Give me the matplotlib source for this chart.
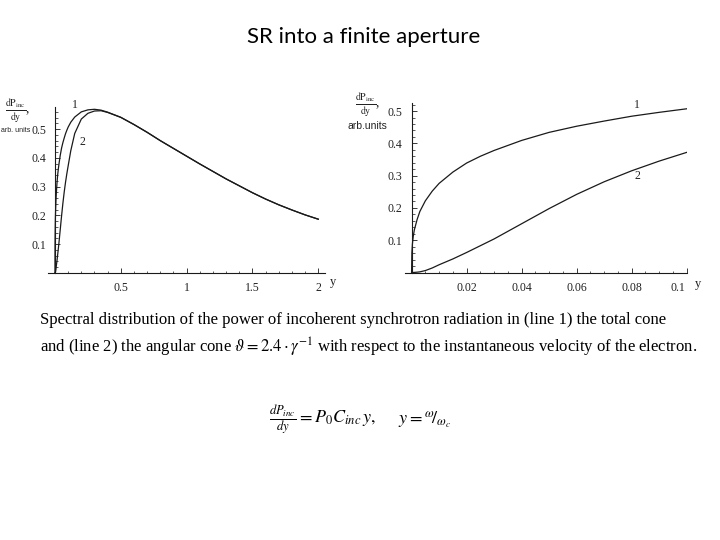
import matplotlib
matplotlib.use("Agg")
import matplotlib.pyplot as plt
import numpy as np
from matplotlib.ticker import MultipleLocator, FixedLocator
from matplotlib.transforms import ScaledTranslation

plt.rcParams["mathtext.fontset"] = "stix"
plt.rcParams["font.family"] = ["Liberation Serif", "DejaVu Serif"]

# y = omega / omega_c
y_grid = [0, 0.0001, 0.0003, 0.0006, 0.001, 0.002, 0.003, 0.005, 0.0075, 0.01,
          0.015, 0.02, 0.025, 0.03, 0.04, 0.05, 0.06, 0.07, 0.08, 0.09, 0.1,
          0.12, 0.15, 0.2, 0.25, 0.3, 0.35, 0.4, 0.5, 0.6, 0.7, 0.8, 0.9, 1.0,
          1.1, 1.2, 1.3, 1.4, 1.5, 1.6, 1.7, 1.8, 1.9, 2.0]
# line 1: total cone
p_total = [0, 0.062, 0.089, 0.112, 0.132, 0.164, 0.189, 0.222, 0.252, 0.276,
           0.311, 0.339, 0.360, 0.378, 0.409, 0.434, 0.453, 0.469, 0.484, 0.496, 0.507,
           0.524, 0.542, 0.560, 0.567, 0.569, 0.566, 0.559, 0.541, 0.516, 0.489, 0.460,
           0.433, 0.406, 0.379, 0.353, 0.327, 0.303, 0.279, 0.257, 0.237, 0.219, 0.202,
           0.187]
# line 2: angular cone 2.4/gamma
p_cone = [0, 0.0, 0.0, 0.0001, 0.0003, 0.001, 0.002, 0.006, 0.014, 0.024,
          0.042, 0.062, 0.083, 0.104, 0.151, 0.198, 0.242, 0.281, 0.315, 0.345, 0.372,
          0.425, 0.485, 0.535, 0.555, 0.563, 0.564, 0.558, 0.541, 0.516, 0.489, 0.460,
          0.433, 0.406, 0.379, 0.353, 0.327, 0.303, 0.279, 0.257, 0.237, 0.219, 0.202,
          0.187]

left_xticks = [0.5, 1, 1.5, 2]
left_xlabels = ["0.5", "1", "1.5", "2"]
right_xticks = [0.02, 0.04, 0.06, 0.08, 0.1]
right_xlabels = ["0.02", "0.04", "0.06", "0.08", "0.1"]
left_yticks = [0.1, 0.2, 0.3, 0.4, 0.5]
right_yticks = [0.1, 0.2, 0.3, 0.4, 0.5]

W, H = 720, 540
LINE = "#1a1a1a"
TXT = "#222222"


def px(x, y):
    return x / W, 1 - y / H


def style_axes(ax, xticks, xlabels, yticks, xminor, yminor):
    for side in ("top", "right"):
        ax.spines[side].set_visible(False)
    ax.spines["left"].set_position(("data", 0))
    ax.spines["bottom"].set_position(("data", 0))
    for side in ("left", "bottom"):
        ax.spines[side].set_linewidth(0.8)
        ax.spines[side].set_color(LINE)
    ax.xaxis.set_major_locator(FixedLocator(xticks))
    ax.set_xticklabels(xlabels)
    ax.yaxis.set_major_locator(FixedLocator(yticks))
    ax.set_yticklabels([f"{v:.1f}" for v in yticks])
    ax.xaxis.set_minor_locator(MultipleLocator(xminor))
    ax.yaxis.set_minor_locator(MultipleLocator(yminor))
    ax.tick_params(which="major", direction="in", length=3.5, width=0.6,
                   colors=LINE, labelcolor=TXT, labelsize=8.5, pad=6.5)
    ax.tick_params(which="minor", direction="in", length=1.8, width=0.5, colors=LINE)
    ax.patch.set_alpha(0)


y_arr = np.array(y_grid)
total_arr = np.array(p_total)
cone_arr = np.array(p_cone)

fig = plt.figure(figsize=(7.2, 5.4), dpi=100)

# left panel: 0 < y < 2
ax1 = fig.add_axes([48 / W, 1 - 273 / H, (325 - 48) / W, (273 - 106.7) / H])
ax1.plot(y_arr, total_arr, color=LINE, lw=0.9)
ax1.plot(y_arr, cone_arr, color=LINE, lw=0.9)
ax1.set_xlim(-0.053, 2.051)
ax1.set_ylim(0, 0.578)
style_axes(ax1, left_xticks, left_xlabels, left_yticks, 0.1, 0.02)
ax1.text(0.152, 0.585, "1", fontsize=8.5, color=TXT, ha="center", va="center", clip_on=False)
ax1.text(0.205, 0.456, "2", fontsize=8.5, color=TXT, ha="center", va="center")

# right panel: 0 < y < 0.1
mask = y_arr <= 0.1
ax2 = fig.add_axes([405 / W, 1 - 272.5 / H, (686.7 - 405) / W, (272.5 - 103.3) / H])
ax2.plot(y_arr[mask], total_arr[mask], color=LINE, lw=0.9)
ax2.plot(y_arr[mask], cone_arr[mask], color=LINE, lw=0.9)
ax2.set_xlim(-0.0024, 0.1)
ax2.set_ylim(0, 0.524)
style_axes(ax2, right_xticks, right_xlabels, right_yticks, 0.005, 0.02)
last = ax2.get_xticklabels()[-1]
last.set_transform(last.get_transform() + ScaledTranslation(-6 / 72, 0, fig.dpi_scale_trans))
ax2.text(0.082, 0.52, "1", fontsize=8.5, color=TXT, ha="center", va="center", clip_on=False)
ax2.text(0.082, 0.30, "2", fontsize=8.5, color=TXT, ha="center", va="center")

# axis captions
frac = r"$\frac{\mathrm{dP}_{\mathrm{inc}}}{\mathrm{dy}}$,"
fig.text(*px(18, 111), frac, fontsize=10, color=TXT, ha="center", va="center")
fig.text(*px(1, 130), "arb. units", fontsize=5, color=TXT, ha="left", va="center",
         family="Liberation Sans")
fig.text(*px(368, 105), frac, fontsize=10, color=TXT, ha="center", va="center")
fig.text(*px(367, 126), "arb.units", fontsize=7.5, color=TXT, ha="center", va="center",
         family="Liberation Sans")
fig.text(*px(333, 282), "y", fontsize=9, color=TXT, ha="center", va="center")
fig.text(*px(698, 284), "y", fontsize=9, color=TXT, ha="center", va="center")

# slide title and caption
fig.text(*px(364, 37), "SR into a finite aperture", fontsize=16, color="black",
         ha="center", va="center", family="Lato")
fig.text(*px(40, 320),
         "Spectral distribution of the power of incoherent synchrotron radiation in (line 1) the total cone",
         fontsize=12, color="black", ha="left", va="center")
fig.text(*px(40, 347),
         r"and (line 2) the angular cone $\vartheta = 2.4\cdot\gamma^{-1}$ with respect to "
         "the instantaneous velocity of the electron.",
         fontsize=12, color="black", ha="left", va="center")

# formula
fig.text(*px(269, 420), r"$\frac{dP_{inc}}{dy} = P_0 C_{inc}\, y,$", fontsize=13,
         color="black", ha="left", va="center")
fig.text(*px(398, 420), r"$y = {}^{\omega}\!/_{\omega_c}$", fontsize=13,
         color="black", ha="left", va="center")

fig.savefig("out.png", dpi=100)
